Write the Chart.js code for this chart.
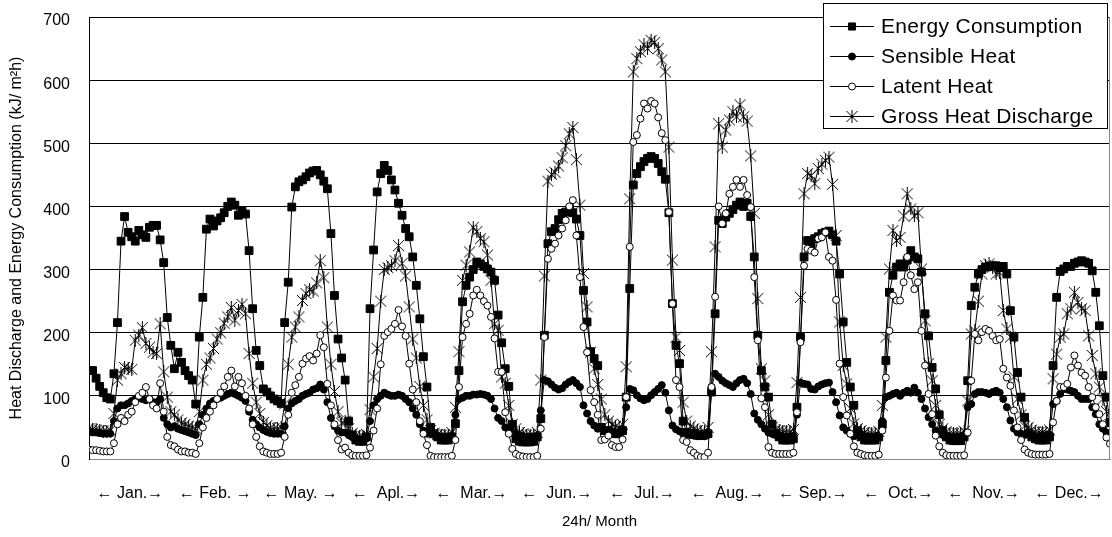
<!DOCTYPE html>
<html>
<head>
<meta charset="utf-8">
<script src="https://cdn.jsdelivr.net/npm/chart.js@4.4.1/dist/chart.umd.min.js"></script>
<style>
  html, body { margin: 0; padding: 0; background: #fff; overflow: hidden; }
  #chart { display: block; }
</style>
</head>
<body>
<canvas id="chart" width="1117" height="537"></canvas>
<script>
// month tick labels, in the order of the original figure
const months = ['\u2190 Jan.\u2192', '\u2190 Feb. \u2192', '\u2190 May. \u2192', '\u2190  Apl.\u2192', '\u2190  Mar.\u2192', '\u2190  Jun.\u2192',
                '\u2190  Jul.\u2192', '\u2190  Aug.\u2192', '\u2190 Sep.\u2192', '\u2190  Oct.\u2192', '\u2190  Nov.\u2192', '\u2190 Dec.\u2192'];
const yTicks = [0, 100, 200, 300, 400, 500, 600, 700];

// 24 hourly values per month
const energy = [
  140,140,128,115,105,97,95,135,216,345,384,359,352,345,362,355,351,367,370,370,347,311,224,180, // Jan
  143,169,153,140,132,125,87,193,256,364,380,369,377,382,390,400,407,402,386,393,388,330,238,172, // Feb
  148,111,106,100,95,92,88,216,280,399,431,439,442,447,453,456,457,450,440,428,357,259,190,160,   // May
  125,60,38,30,28,28,35,238,331,423,452,465,457,442,426,405,386,365,352,320,275,222,162,114,      // Apl
  50,40,35,30,30,30,35,56,140,249,275,288,300,312,309,305,301,296,283,228,184,143,115,55,         // Mar
  32,28,27,27,27,28,35,64,196,341,360,365,379,389,391,394,390,380,354,267,217,170,159,148,        // Jun
  50,45,45,42,40,40,45,98,270,434,452,463,471,476,479,476,468,455,443,390,246,180,151,60,         // Jul
  42,40,40,38,38,38,40,106,230,378,373,383,389,395,402,407,400,405,384,320,196,140,114,98,        // Aug
  55,40,35,30,30,30,32,82,193,320,346,340,349,352,357,359,361,355,345,293,217,153,114,85,         // Sep
  45,35,30,30,30,30,35,55,156,264,291,304,309,304,315,330,320,317,296,230,195,145,111,70,         // Oct
  45,35,30,29,29,29,35,124,243,272,293,300,304,305,306,306,303,305,293,235,193,137,98,66,         // Nov
  40,35,32,30,30,30,35,148,256,297,301,305,305,310,312,314,312,310,298,264,211,132,98,58          // Dec
];
const sensible = [
  43,42,42,41,40,40,40,60,80,85,85,88,92,95,97,95,93,95,90,90,95,65,55,50,
  52,48,46,44,42,40,38,55,70,80,88,92,95,97,100,103,105,103,100,97,92,75,62,55,
  50,46,43,41,40,40,40,52,80,88,92,95,100,103,105,110,112,118,110,90,65,52,45,42,
  42,38,35,32,31,31,33,60,85,95,100,105,102,100,100,102,100,95,90,80,70,55,45,40,
  40,38,36,35,35,35,37,70,95,97,100,100,102,102,103,102,100,95,80,65,60,50,45,42,
  40,37,36,35,35,35,37,77,125,123,118,113,110,112,118,122,125,120,114,85,72,60,53,48,
  50,45,42,40,40,40,45,82,111,109,101,96,93,95,101,106,111,117,105,77,53,47,44,40,
  40,38,37,36,36,36,40,114,135,130,124,120,117,114,120,125,127,120,103,72,62,55,48,42,
  40,38,37,36,35,35,37,70,121,119,118,111,110,115,118,120,121,106,90,69,50,45,40,36,
  38,37,36,35,35,35,37,60,98,100,103,105,100,105,108,105,113,105,95,80,66,55,45,40,
  38,36,35,35,35,35,38,82,87,103,106,106,105,103,106,108,105,95,82,61,48,42,40,38,
  40,38,36,35,35,35,38,87,92,103,111,110,108,106,100,95,95,95,82,71,55,48,42,40
];
const latent = [
  15,14,14,13,12,12,12,25,55,65,60,70,75,90,100,105,114,95,85,80,120,75,35,22,
  20,15,12,12,10,10,8,25,50,65,75,85,95,105,115,130,140,115,130,120,100,80,55,35,
  20,12,10,8,8,8,10,35,70,105,117,130,151,159,163,156,167,196,177,119,85,55,30,15,
  18,10,6,5,5,5,6,18,45,80,150,195,201,206,214,236,210,195,151,110,90,60,40,22,
  5,3,3,3,3,3,5,30,114,193,214,230,259,268,259,250,243,225,191,138,138,74,40,16,
  8,5,4,3,3,3,5,48,193,317,333,341,354,365,378,400,410,354,288,209,169,109,90,70,
  30,31,37,22,19,19,31,98,336,502,513,539,563,555,567,563,541,516,505,391,246,125,114,30,
  27,14,10,5,3,3,10,114,257,400,373,389,420,431,442,431,442,418,399,288,188,96,82,19,
  10,8,8,8,8,8,10,74,185,306,333,330,327,349,351,359,320,314,252,151,98,69,40,20,
  10,8,6,5,5,5,7,45,129,203,259,251,251,280,320,291,269,280,203,148,103,71,37,20,
  10,6,5,5,5,5,6,42,124,198,188,201,206,203,195,188,190,143,129,116,77,50,30,15,
  10,8,7,7,7,7,8,58,92,114,114,119,145,164,148,137,132,114,98,82,71,55,34,24
];
const gross = [
  48,47,46,45,44,44,45,72,125,135,145,143,142,188,196,208,183,177,169,167,214,138,98,75,
  70,62,57,55,52,50,48,75,125,150,160,175,190,200,215,225,240,220,235,245,230,167,120,90,
  72,58,53,49,48,48,50,87,150,193,209,225,251,262,268,266,279,314,287,209,150,107,75,57,
  60,48,41,37,36,36,39,78,130,175,250,300,303,306,314,338,310,290,241,190,160,115,85,62,
  45,41,39,38,38,38,42,82,170,283,307,328,367,360,349,344,323,283,214,204,130,120,85,55,
  48,42,40,38,38,38,42,125,290,440,451,454,464,477,496,515,525,474,402,294,241,169,143,118,
  95,70,60,55,52,50,55,146,412,613,634,645,656,650,663,660,650,632,613,494,315,193,172,90,
  60,52,48,45,43,43,50,170,336,531,494,521,537,550,542,561,542,535,480,389,254,143,124,70,
  50,46,45,44,43,43,47,121,256,420,452,449,436,460,467,473,478,435,354,217,148,119,80,56,
  48,45,42,40,40,40,44,85,193,301,362,346,351,385,420,396,385,390,301,219,151,124,85,55,
  48,43,40,40,40,40,44,92,198,203,250,293,306,309,304,293,295,235,206,193,130,95,70,52,
  50,46,43,42,42,42,46,127,166,193,198,230,238,264,248,238,235,195,164,135,114,95,75,55
];

const FONT = '"Liberation Sans", Arial, sans-serif';

// asterisk marker: an X with a vertical stroke
function makeAsterisk(size) {
    const c = document.createElement('canvas');
    c.width = size; c.height = size;
    const g = c.getContext('2d');
    g.strokeStyle = '#000';
    g.lineWidth = 1;
    const m = size / 2;
    g.beginPath();
    g.moveTo(1, 1); g.lineTo(size - 1, size - 1);
    g.moveTo(size - 1, 1); g.lineTo(1, size - 1);
    g.moveTo(m, 0); g.lineTo(m, size);
    g.stroke();
    return c;
}
const asterisk = makeAsterisk(13);

function toPoints(arr) {
    return arr.map((v, i) => ({ x: i, y: v }));
}

function series(label, values, style, radius, fill, order) {
    return {
        label: label,
        data: toPoints(values),
        borderColor: '#000',
        borderWidth: 1,
        pointStyle: style,
        pointRadius: radius,
        pointBorderWidth: 1,
        pointBackgroundColor: fill,
        pointBorderColor: '#000',
        tension: 0,
        order: order
    };
}

// legend box drawn by hand: line + marker + text
const legendBox = {
    id: 'legendBox',
    afterDraw(chart) {
        const ctx = chart.ctx;
        const area = chart.chartArea;
        ctx.save();
        // right frame line
        ctx.strokeStyle = '#888';
        ctx.lineWidth = 1;
        ctx.beginPath();
        ctx.moveTo(Math.round(area.right) - 0.5, area.top);
        ctx.lineTo(Math.round(area.right) - 0.5, area.bottom);
        ctx.stroke();

        ctx.fillStyle = '#fff';
        ctx.strokeStyle = '#000';
        ctx.fillRect(823.5, 3.5, 284, 125);
        ctx.strokeRect(823.5, 3.5, 284, 125);
        chart.data.datasets.forEach((ds, i) => {
            const y = 26 + i * 30;
            ctx.strokeStyle = '#000';
            ctx.beginPath();
            ctx.moveTo(830, y + 0.5);
            ctx.lineTo(874, y + 0.5);
            ctx.stroke();
            ctx.fillStyle = ds.pointBackgroundColor;
            const r = ds.pointStyle === 'rect' ? 5 : ds.pointRadius;
            Chart.helpers.drawPoint(ctx, { pointStyle: ds.pointStyle, radius: r, borderWidth: 1 }, 852, y + 0.5);
            ctx.fillStyle = '#000';
            ctx.font = '21px ' + FONT;
            ctx.textBaseline = 'middle';
            ctx.textAlign = 'left';
            ctx.letterSpacing = '0.3px';
            ctx.fillText(ds.label, 881, y + 1);
            ctx.letterSpacing = '0px';
        });
        ctx.restore();
    }
};

function noPad(s) {
    s.paddingLeft = 0;
    s.paddingRight = 0;
    s.paddingTop = 0;
    s.paddingBottom = 0;
}

new Chart(document.getElementById('chart'), {
    type: 'line',
    data: {
        datasets: [
            series('Energy Consumption', energy, 'rect', 5.5, '#000', 3),
            series('Sensible Heat', sensible, 'circle', 3.5, '#000', 2),
            series('Latent Heat', latent, 'circle', 3.5, '#fff', 1),
            series('Gross Heat Discharge', gross, asterisk, 6, '#000', 4)
        ]
    },
    options: {
        responsive: false,
        animation: false,
        layout: { padding: { top: 17, right: 0, left: 0, bottom: 0 } },
        plugins: {
            legend: { display: false },
            tooltip: { enabled: false }
        },
        scales: {
            x: {
                type: 'linear',
                min: 0,
                max: energy.length - 1,
                grid: { display: false },
                border: { color: '#888', width: 1 },
                afterBuildTicks: s => { s.ticks = months.map((m, i) => ({ value: i * 24 + 11.5 })); },
                afterFit: s => { s.height = 78; noPad(s); },
                ticks: {
                    autoSkip: false,
                    maxRotation: 0,
                    padding: 17,
                    color: '#000',
                    font: { family: FONT, size: 16 },
                    callback: (v, i) => months[i]
                },
                title: {
                    display: true,
                    text: '24h/ Month',
                    color: '#000',
                    font: { family: FONT, size: 15 },
                    padding: { top: 0, bottom: 6 }
                }
            },
            y: {
                min: 0,
                max: 700,
                afterBuildTicks: s => { s.ticks = yTicks.map(v => ({ value: v })); },
                afterFit: s => { s.width = 89; noPad(s); },
                grid: {
                    drawTicks: false,
                    color: c => (c.tick && c.tick.value === 0) ? 'rgba(0,0,0,0)' : '#000',
                    lineWidth: 1
                },
                border: { color: '#000', width: 1 },
                ticks: {
                    padding: 19,
                    labelOffset: 4,
                    color: '#000',
                    font: { family: FONT, size: 16 }
                },
                title: {
                    display: true,
                    text: 'Heat Discharge and Energy Consumption (kJ/ m\u00b2h)',
                    color: '#000',
                    font: { family: FONT, size: 16 },
                    padding: { top: 7, bottom: 0 }
                }
            }
        }
    },
    plugins: [legendBox]
});
</script>
</body>
</html>
